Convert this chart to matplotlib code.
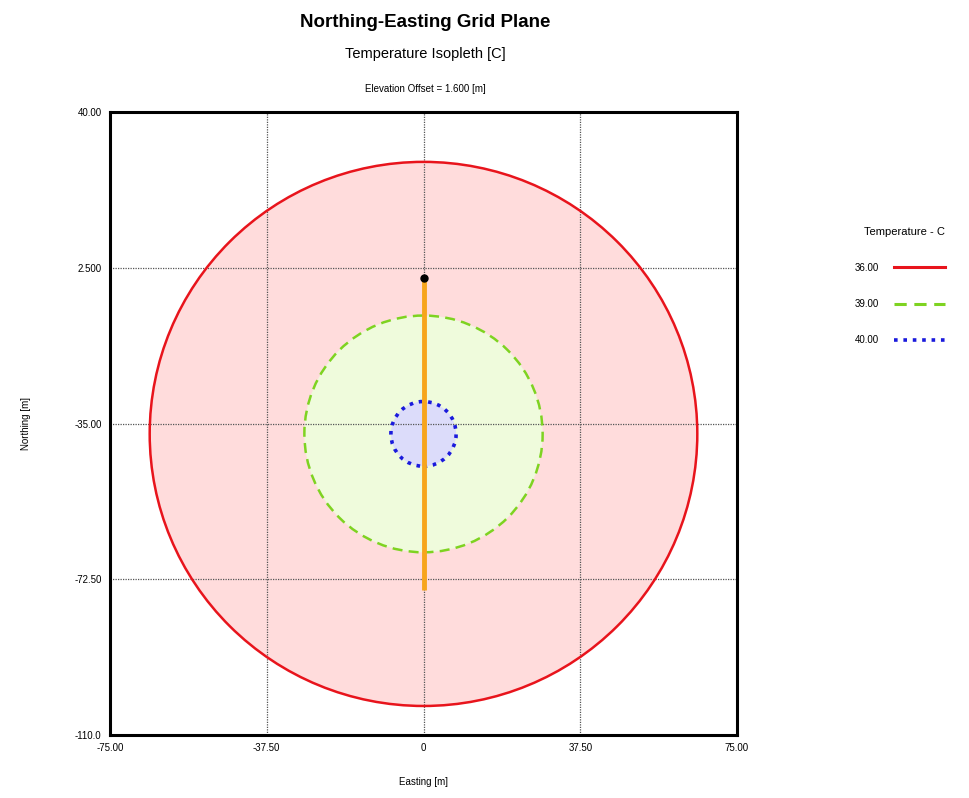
import matplotlib
matplotlib.use("Agg")
import matplotlib.pyplot as plt
from matplotlib.patches import Circle
from matplotlib.lines import Line2D

plt.rcParams['font.family'] = ['Liberation Sans', 'DejaVu Sans']

# isopleth levels (deg C) and their radii around the release point
levels = ["36.00", "39.00", "40.00"]
radii = [65.5, 28.5, 7.8]
center = (0.0, -37.5)
edge_colors = ["#e8141c", "#7ed321", "#1a1adc"]
fill_colors = ["#ffdcdc", "#effbdc", "#dcdcfa"]
styles = ["-", (0, (4, 2.5)), (0, (1, 1.6))]

# source line and its top point
src_x = [0.0, 0.0]
src_y = [0.0, -75.0]

x_ticks = [-75.0, -37.5, 0.0, 37.5, 75.0]
x_labels = ["-75.00", "-37.50", "0", "37.50", "75.00"]
y_ticks = [-110.0, -72.5, -35.0, 2.5, 40.0]
y_labels = ["-110.0", "-72.50", "-35.00", "2.500", "40.00"]

fig = plt.figure(figsize=(9.69, 7.98), dpi=100)
ax = fig.add_axes([0.1135, 0.0789, 0.6471, 0.7807])
ax.set_xlim(-75, 75)
ax.set_ylim(-110, 40)

for r, fc in zip(radii, fill_colors):
    ax.add_patch(Circle(center, r, facecolor=fc, edgecolor="none", zorder=1))
for r, ec, ls in zip(radii, edge_colors, styles):
    lw = 2.6 if ls == styles[2] else 1.8
    ax.add_patch(Circle(center, r, facecolor="none", edgecolor=ec,
                        linestyle=ls, linewidth=lw, zorder=3))

for v in x_ticks[1:-1]:
    ax.axvline(v, color="#555555", lw=0.9, ls=(0, (1, 1)), zorder=2)
for v in y_ticks[1:-1]:
    ax.axhline(v, color="#555555", lw=0.9, ls=(0, (1, 1)), zorder=2)

ax.plot(src_x, src_y, color="#f7a51c", lw=3.5, solid_capstyle="butt", zorder=4)
ax.plot(src_x[0], src_y[0], "o", color="black", ms=5, zorder=5)

ax.set_xticks(x_ticks)
ax.set_xticklabels(x_labels)
ax.set_yticks(y_ticks)
ax.set_yticklabels(y_labels)
ax.tick_params(length=0, labelsize=7, pad=6)
for s in ax.spines.values():
    s.set_linewidth(2.2)

ax.set_xlabel("Easting [m]", fontsize=7, labelpad=17)
ax.set_ylabel("Northing [m]", fontsize=7, labelpad=31)

fig.text(0.4385, 0.972, "Northing-Easting Grid Plane", fontsize=13.5, fontweight="bold",
         ha="center", va="center")
fig.text(0.4385, 0.932, "Temperature Isopleth [C]", fontsize=10.5, ha="center", va="center")
fig.text(0.4385, 0.889, "Elevation Offset = 1.600 [m]", fontsize=7, ha="center", va="center")

handles = [Line2D([], [], color=c, ls=ls, lw=2.2 if i < 2 else 2.6)
           for i, (c, ls) in enumerate(zip(edge_colors, styles))]
leg = fig.legend(handles, levels, title="Temperature - C", loc="upper left",
                 bbox_to_anchor=(0.878, 0.721), frameon=False, markerfirst=False,
                 fontsize=7, title_fontsize=8, handlelength=5.3, labelspacing=2.7,
                 handletextpad=1.5, borderaxespad=0)
leg._legend_box.align = "right"

fig.savefig("out.png", dpi=100)
